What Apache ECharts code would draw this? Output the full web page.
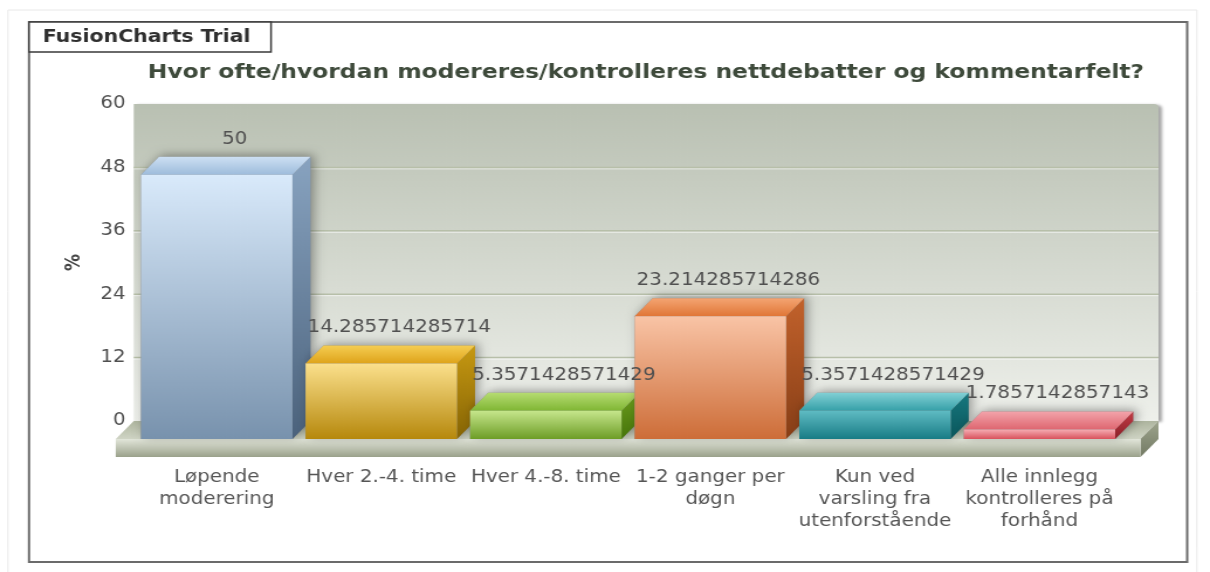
<!DOCTYPE html>
<html><head><meta charset="utf-8">
<script src="https://cdn.jsdelivr.net/npm/echarts@6/dist/echarts.min.js"></script>
<style>
html,body{margin:0;padding:0;background:#fff;overflow:hidden;width:1210px;height:572px;}
#chart{width:1034px;height:572px;transform:scaleX(1.1702);transform-origin:0 0;}
</style></head><body><div id="chart"></div>
<script>
// ---- data ----
const categories = ['Løpende\nmoderering', 'Hver 2.-4. time', 'Hver 4.-8. time', '1-2 ganger per\ndøgn', 'Kun ved\nvarsling fra\nutenforstående', 'Alle innlegg\nkontrolleres på\nforhånd'];
const values = [50, 14.285714285714, 5.3571428571429, 23.214285714286, 5.3571428571429, 1.7857142857143];
const yTicks = [0, 12, 24, 36, 48, 60];
const titleText = 'Hvor ofte/hvordan modereres/kontrolleres nettdebatter og kommentarfelt?';
const yAxisName = '%';
const trialText = 'FusionCharts Trial';

// ---- style ----
const FONT = 'DejaVu Sans, Verdana, sans-serif';
const DX = 15.4, DY = 18, EXT = 16, FLOOR_H = 18, BAR_RATIO = 0.92;
const palette = [
  {front: ['#d9eafb', '#7892ad'], top: ['#cde0f3', '#9dbbdb'], side: ['#88a3c0', '#4b627c']},
  {front: ['#fbe08c', '#b6880c'], top: ['#f5cd52', '#dea31a'], side: ['#c79912', '#866404']},
  {front: ['#c6e68c', '#6d9d26'], top: ['#b6dc72', '#80b634'], side: ['#6c9f1e', '#46740a']},
  {front: ['#f9c4a6', '#cd6d38'], top: ['#f4a472', '#e07636'], side: ['#c2622c', '#873e16']},
  {front: ['#5fbbc3', '#187c85'], top: ['#82d0d5', '#36a0a8'], side: ['#17787f', '#0a565b']},
  {front: ['#f5abb2', '#d9525c'], top: ['#f3a3aa', '#de6670'], side: ['#c23c46', '#8a1f27']}
];
function grad(x0, y0, x1, y1, cols) {
  return new echarts.graphic.LinearGradient(x0, y0, x1, y1, [{offset: 0, color: cols[0]}, {offset: 1, color: cols[1]}]);
}

const chart = echarts.init(document.getElementById('chart'));

function renderWall(params, api) {
  const cs = params.coordSys;
  const y0 = api.coord([0, yTicks[0]])[1];
  const yMax = api.coord([0, yTicks[yTicks.length - 1]])[1];
  const fl = cs.x - EXT, fr = cs.x + cs.width + EXT;
  const bl = fl + DX, br = fr + DX;
  const children = [];
  children.push({type: 'rect', shape: {x: bl, y: yMax - DY, width: br - bl, height: y0 - yMax, r: [0, 4, 0, 0]},
    style: {fill: grad(0, 0, 0, 1, ['#b9c0b2', '#eef0eb']), shadowColor: 'rgba(0,0,0,0.35)', shadowBlur: 3, shadowOffsetX: 3, shadowOffsetY: 1}});
  for (let k = 1; k < yTicks.length - 1; k++) {
    const y = api.coord([0, yTicks[k]])[1] - DY;
    children.push({type: 'line', shape: {x1: bl, y1: y, x2: br, y2: y}, style: {stroke: '#b7bfa9', lineWidth: 1.5}});
    children.push({type: 'line', shape: {x1: bl, y1: y + 1.5, x2: br, y2: y + 1.5}, style: {stroke: 'rgba(255,255,255,0.6)', lineWidth: 1}});
  }
  children.push({type: 'polygon', shape: {points: [[fl, y0], [fr, y0], [br, y0 - DY], [bl, y0 - DY]]},
    style: {fill: grad(0, 0, 0, 1, ['#aeb59f', '#cfd4c4'])}});
  children.push({type: 'polygon', shape: {points: [[fr, y0], [br, y0 - DY], [br, y0 - DY + FLOOR_H], [fr, y0 + FLOOR_H]]},
    style: {fill: grad(0, 0, 0, 1, ['#9da48d', '#737a64'])}});
  children.push({type: 'rect', shape: {x: fl, y: y0, width: fr - fl, height: FLOOR_H},
    style: {fill: grad(0, 0, 0, 1, ['#e2e6da', '#9aa18b'])}});
  return {type: 'group', children: children};
}

function renderBar(params, api) {
  const i = api.value(0), v = api.value(1);
  const base = api.coord([i, 0]);
  const top = api.coord([i, v]);
  const w = api.size([1, 0])[0] * BAR_RATIO;
  const xl = base[0] - w / 2, xr = base[0] + w / 2, yt = top[1], yb = base[1];
  const c = palette[params.dataIndex % palette.length];
  return {type: 'group', children: [
    {type: 'polygon', shape: {points: [[xl, yt], [xl + DX, yt - DY], [xr + DX, yt - DY], [xr + DX, yb - DY], [xr, yb], [xl, yb]]},
      style: {fill: '#888', shadowColor: 'rgba(0,0,0,0.35)', shadowBlur: 10, shadowOffsetX: 3, shadowOffsetY: -2}},
    {type: 'polygon', shape: {points: [[xr, yt], [xr + DX, yt - DY], [xr + DX, yb - DY], [xr, yb]]}, style: {fill: grad(0, 0, 0, 1, c.side)}},
    {type: 'polygon', shape: {points: [[xl, yt], [xr, yt], [xr + DX, yt - DY], [xl + DX, yt - DY]]}, style: {fill: grad(0, 0, 0, 1, c.top)}},
    {type: 'rect', shape: {x: xl, y: yt, width: w, height: yb - yt}, style: {fill: grad(0, 0, 0, 1, c.front)}}
  ]};
}

function renderLabel(params, api) {
  const i = api.value(0), v = api.value(1);
  const p = api.coord([i, v]);
  return {type: 'text', style: {text: String(values[params.dataIndex]), x: p[0] + DX, y: p[1] - DY - 9,
    align: 'center', verticalAlign: 'bottom', fill: '#505050', font: '17px ' + FONT}};
}

const barData = values.map((v, i) => [i, v]);

chart.setOption({
  animation: false,
  title: {text: titleText, left: 547, top: 58, textAlign: 'center',
    textStyle: {fontFamily: FONT, fontSize: 20, fontWeight: 'bold', color: '#3e4a3b'}},
  graphic: [
    {type: 'rect', shape: {x: 6.8, y: 10, width: 1016, height: 570}, style: {fill: 'none', stroke: '#e8e8e8', lineWidth: 1}, z: -10},
    {type: 'rect', shape: {x: 24.8, y: 22, width: 989.7, height: 540}, style: {fill: 'none', stroke: '#6b6b6b', lineWidth: 2}, z: -5},
    {type: 'rect', shape: {x: 24.8, y: 22, width: 206.8, height: 30}, style: {fill: '#fff', stroke: '#3a3a3a', lineWidth: 1.5}, z: 10},
    {type: 'text', x: 36.5, y: 37, style: {text: trialText, font: 'bold 17.5px ' + FONT, fill: '#2f2f2f', verticalAlign: 'middle'}, z: 11}
  ],
  grid: [
    {left: 130.3, right: 60, top: 104, bottom: 151},
    {left: 114.9, right: 75.4, top: 122, bottom: 133}
  ],
  xAxis: [
    {gridIndex: 0, type: 'category', data: categories, show: false},
    {gridIndex: 1, type: 'category', data: categories,
      axisLine: {show: false}, axisTick: {show: false},
      axisLabel: {interval: 0, margin: 28, fontFamily: FONT, fontSize: 17, lineHeight: 22, color: '#555'}}
  ],
  yAxis: [
    {gridIndex: 0, type: 'value', min: yTicks[0], max: yTicks[yTicks.length - 1], interval: yTicks[1] - yTicks[0],
      name: yAxisName, nameLocation: 'middle', nameGap: 58, nameTextStyle: {fontFamily: FONT, fontSize: 17, fontWeight: 'bold', color: '#444'},
      axisLine: {show: false}, axisTick: {show: false}, splitLine: {show: false},
      axisLabel: {margin: 23, fontFamily: FONT, fontSize: 17, color: '#505050'}},
    {gridIndex: 1, type: 'value', min: yTicks[0], max: yTicks[yTicks.length - 1], interval: yTicks[1] - yTicks[0], show: false, splitLine: {show: false}}
  ],
  series: [
    {type: 'custom', xAxisIndex: 1, yAxisIndex: 1, z: 1, data: [[0, 0]], renderItem: renderWall, silent: true},
    {type: 'custom', xAxisIndex: 1, yAxisIndex: 1, z: 3, data: barData, encode: {x: 0, y: 1}, renderItem: renderBar},
    {type: 'custom', xAxisIndex: 1, yAxisIndex: 1, z: 4, data: barData, encode: {x: 0, y: 1}, renderItem: renderLabel}
  ]
});
</script></body></html>
